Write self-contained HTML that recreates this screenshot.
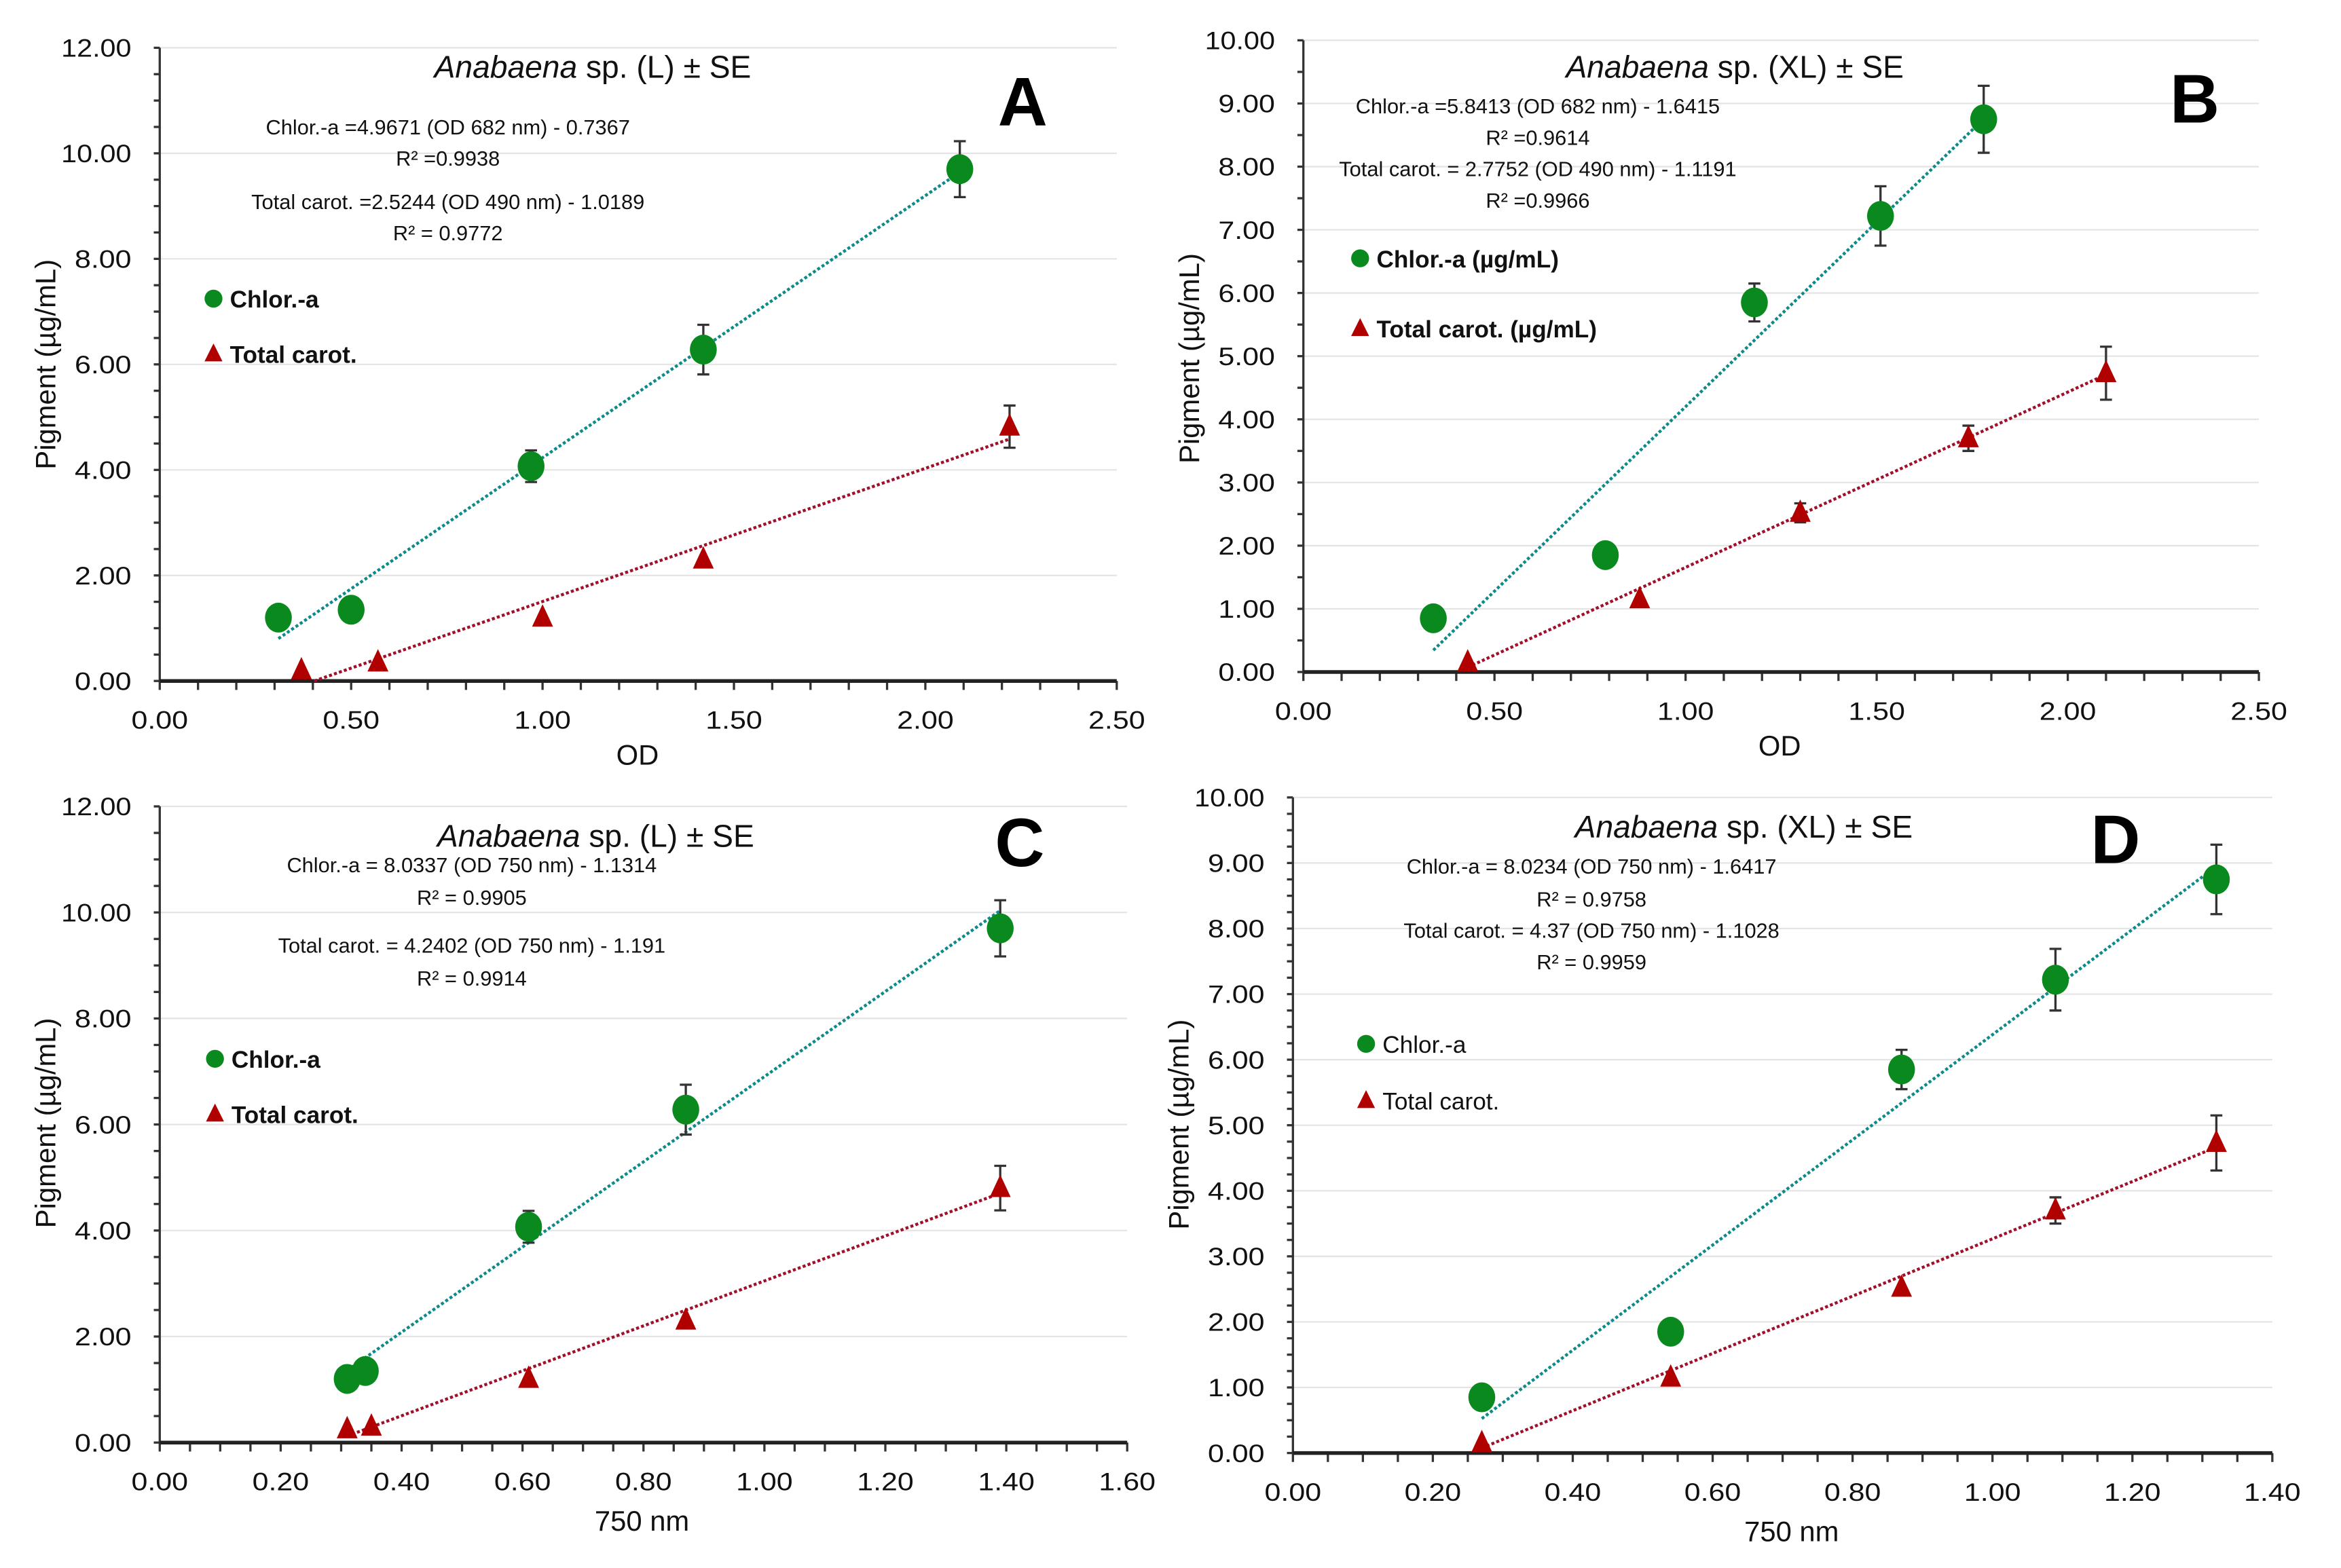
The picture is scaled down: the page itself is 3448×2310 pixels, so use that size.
<!DOCTYPE html>
<html><head><meta charset="utf-8">
<style>
html,body{margin:0;padding:0;background:#fff;}
svg{display:block;}
text{font-family:"Liberation Sans",sans-serif;}
</style></head>
<body>
<svg id="fig" width="3448" height="2310" viewBox="0 0 1568 1050" preserveAspectRatio="none" xmlns="http://www.w3.org/2000/svg"></svg>
<script>
// Panel A
const aChlorX=[0.31,0.50,0.97,1.42,2.09];
const aChlorY=[1.2,1.35,4.07,6.28,9.7];
const aChlorE=[0,0,0.3,0.47,0.53];
const aCarX=[0.37,0.57,1.00,1.42,2.22];
const aCarY=[0.2,0.35,1.2,2.3,4.82];
const aCarE=[0,0,0,0,0.4];
const aXTicks=["0.00","0.50","1.00","1.50","2.00","2.50"];
const aYTicks=["0.00","2.00","4.00","6.00","8.00","10.00","12.00"];
// Panel B
const bChlorX=[0.34,0.79,1.18,1.51,1.78];
const bChlorY=[0.85,1.85,5.85,7.22,8.75];
const bChlorE=[0,0,0.3,0.47,0.53];
const bCarX=[0.43,0.88,1.30,1.74,2.10];
const bCarY=[0.15,1.15,2.52,3.7,4.73];
const bCarE=[0,0,0.15,0.2,0.42];
const bXTicks=["0.00","0.50","1.00","1.50","2.00","2.50"];
const bYTicks=["0.00","1.00","2.00","3.00","4.00","5.00","6.00","7.00","8.00","9.00","10.00"];
// Panel C
const cChlorX=[0.31,0.34,0.61,0.87,1.39];
const cChlorY=[1.2,1.35,4.07,6.28,9.7];
const cChlorE=[0,0,0.3,0.47,0.53];
const cCarX=[0.31,0.35,0.61,0.87,1.39];
const cCarY=[0.25,0.3,1.2,2.3,4.8];
const cCarE=[0,0,0,0,0.42];
const cXTicks=["0.00","0.20","0.40","0.60","0.80","1.00","1.20","1.40","1.60"];
const cYTicks=["0.00","2.00","4.00","6.00","8.00","10.00","12.00"];
// Panel D
const dChlorX=[0.27,0.54,0.87,1.09,1.32];
const dChlorY=[0.85,1.85,5.85,7.22,8.75];
const dChlorE=[0,0,0.3,0.47,0.53];
const dCarX=[0.27,0.54,0.87,1.09,1.32];
const dCarY=[0.15,1.15,2.52,3.7,4.73];
const dCarE=[0,0,0,0.2,0.42];
const dXTicks=["0.00","0.20","0.40","0.60","0.80","1.00","1.20","1.40"];
const dYTicks=["0.00","1.00","2.00","3.00","4.00","5.00","6.00","7.00","8.00","9.00","10.00"];
// Trend line coefficients [slope, intercept]
const aChlorFit=[4.9671,-0.7367], aCarFit=[2.5244,-1.0189];
const bChlorFit=[5.8413,-1.6415], bCarFit=[2.7752,-1.1191];
const cChlorFit=[8.0337,-1.1314], cCarFit=[4.2402,-1.191];
const dChlorFit=[8.0234,-1.6417], dCarFit=[4.37,-1.1028];

const NS="http://www.w3.org/2000/svg";
const svg=document.getElementById('fig');
function mk(tag,attrs,parent,txt){const e=document.createElementNS(NS,tag);for(const k in attrs)e.setAttribute(k,attrs[k]);if(txt!==undefined)e.textContent=txt;(parent||svg).appendChild(e);return e;}

const panels=[
 {id:'a',x0:107,x1:748,y0:456,y1:32,xmax:2.5,ymax:12,xminor:0.1,yminor:0.5,
  cx:aChlorX,cy:aChlorY,ce:aChlorE,tx:aCarX,ty:aCarY,te:aCarE,xt:aXTicks,yt:aYTicks,cf:aChlorFit,tf:aCarFit,
  title:[397,45,"(L)"],letter:["A",685,84],eqx:300,eqy:[90,111,140,161],
  eq:["Chlor.-a =4.9671 (OD 682 nm) - 0.7367","R² =0.9938","Total carot. =2.5244 (OD 490 nm) - 1.0189","R² = 0.9772"],
  leg:[143,200,237],legT:["Chlor.-a","Total carot."],legBold:true,ytitle:[37,244],xtitle:[427,512,"OD"]},
 {id:'b',x0:873,x1:1513,y0:450,y1:27,xmax:2.5,ymax:10,xminor:0.1,yminor:0.5,
  cx:bChlorX,cy:bChlorY,ce:bChlorE,tx:bCarX,ty:bCarY,te:bCarE,xt:bXTicks,yt:bYTicks,cf:bChlorFit,tf:bCarFit,
  title:[1162,45,"(XL)"],letter:["B",1470,82],eqx:1030,eqy:[76,97,118,139],
  eq:["Chlor.-a =5.8413 (OD 682 nm) - 1.6415","R² =0.9614","Total carot. = 2.7752 (OD 490 nm) - 1.1191","R² =0.9966"],
  leg:[911,173,220],legT:["Chlor.-a (µg/mL)","Total carot. (µg/mL)"],legBold:true,ytitle:[803,240],xtitle:[1192,506,"OD"]},
 {id:'c',x0:107,x1:755,y0:966,y1:540,xmax:1.6,ymax:12,xminor:0.05,yminor:0.5,
  cx:cChlorX,cy:cChlorY,ce:cChlorE,tx:cCarX,ty:cCarY,te:cCarE,xt:cXTicks,yt:cYTicks,cf:cChlorFit,tf:cCarFit,
  title:[399,560,"(L)"],letter:["C",683,580],eqx:316,eqy:[584,606,638,660],
  eq:["Chlor.-a = 8.0337 (OD 750 nm) - 1.1314","R² = 0.9905","Total carot. = 4.2402 (OD 750 nm) - 1.191","R² = 0.9914"],
  leg:[144,709,746],legT:["Chlor.-a","Total carot."],legBold:true,ytitle:[37,752],xtitle:[430,1025,"750 nm"]},
 {id:'d',x0:866,x1:1522,y0:973,y1:534,xmax:1.4,ymax:10,xminor:0.05,yminor:0.25,
  cx:dChlorX,cy:dChlorY,ce:dChlorE,tx:dCarX,ty:dCarY,te:dCarE,xt:dXTicks,yt:dYTicks,cf:dChlorFit,tf:dCarFit,
  title:[1168,554,"(XL)"],letter:["D",1417,578],eqx:1066,eqy:[585,607,628,649],
  eq:["Chlor.-a = 8.0234 (OD 750 nm) - 1.6417","R² = 0.9758","Total carot. = 4.37 (OD 750 nm) - 1.1028","R² = 0.9959"],
  leg:[915,699,737],legT:["Chlor.-a","Total carot."],legBold:false,ytitle:[796,753],xtitle:[1200,1032,"750 nm"]}
];

panels.forEach(p=>{
  const g=mk('g',{});
  
  
  const X=v=>p.x0+(p.x1-p.x0)*v/p.xmax;
  const Y=v=>p.y0+(p.y1-p.y0)*v/p.ymax;
  // gridlines + y ticks
  p.yt.forEach(t=>{
    const v=parseFloat(t), y=Y(v);
    if(v>0){const gl=mk('line',{x1:p.x0,x2:p.x1,y1:y,y2:y,stroke:'#e4e4e4','stroke-width':1},g);
      }
    const tl=mk('text',{x:p.x0-19,y:y+6,'text-anchor':'end','font-size':17,fill:'#111',textLength:t.length>4?47:38,lengthAdjust:'spacingAndGlyphs'},g,t);
    
  });
  for(let v=0;v<=p.ymax+1e-9;v+=p.yminor){mk('line',{x1:p.x0-4,x2:p.x0,y1:Y(v),y2:Y(v),stroke:'#333','stroke-width':1.5},g);}
  for(let v=0;v<=p.xmax+1e-9;v+=p.xminor){mk('line',{x1:X(v),x2:X(v),y1:p.y0,y2:p.y0+6,stroke:'#333','stroke-width':1.5},g);}
  p.xt.forEach(t=>{
    const tl=mk('text',{x:X(parseFloat(t)),y:p.y0+32,'text-anchor':'middle','font-size':17,fill:'#111',textLength:38,lengthAdjust:'spacingAndGlyphs'},g,t);
    
  });
  const ya=mk('line',{x1:p.x0,x2:p.x0,y1:p.y0,y2:p.y1,stroke:'#333','stroke-width':1.5},g);
  
  const xa=mk('line',{x1:p.x0,x2:p.x1,y1:p.y0,y2:p.y0,stroke:'#222','stroke-width':2.5},g);
  
  // titles
  const tt=mk('text',{x:p.title[0],y:p.title[1]+7,'text-anchor':'middle','font-size':21,fill:'#111'},g);
  
  mk('tspan',{'font-style':'italic'},tt,'Anabaena');
  mk('tspan',{},tt,' sp. '+p.title[2]+' ± SE');
  const lt=mk('text',{x:p.letter[1],y:p.letter[2],'text-anchor':'middle','font-size':46,'font-weight':'bold',fill:'#000'},g,p.letter[0]);
  
  p.eq.forEach((s,i)=>{
    const et=mk('text',{x:p.eqx,y:p.eqy[i],'text-anchor':'middle','font-size':14,fill:'#111'},g,s);
    
  });
  const yt=mk('text',{x:p.ytitle[0],y:p.ytitle[1],'text-anchor':'middle','font-size':19,fill:'#111',transform:`rotate(-90 ${p.ytitle[0]} ${p.ytitle[1]})`},g,'Pigment (µg/mL)');
  
  const xt=mk('text',{x:p.xtitle[0],y:p.xtitle[1],'text-anchor':'middle','font-size':19,fill:'#111'},g,p.xtitle[2]);
  
  // trend lines
  function trend(fit,xs,col,name){
    let xa=Math.min(...xs), xb=Math.max(...xs);
    const xz=-fit[1]/fit[0]; if(fit[0]*xa+fit[1]<0) xa=xz;
    const l=mk('line',{x1:X(xa),y1:Y(fit[0]*xa+fit[1]),x2:X(xb),y2:Y(fit[0]*xb+fit[1]),stroke:col,'stroke-width':2,'stroke-dasharray':'2 1.5'},g);
    
  }
  trend(p.cf,p.cx,'#0f8a8a','chlor-trendline');
  trend(p.tf,p.tx,'#a0102a','carot-trendline');
  // error bars
  function err(xs,ys,es){xs.forEach((x,i)=>{if(!es[i])return;const cx=X(x),a=Y(ys[i]-es[i]),b=Y(ys[i]+es[i]);
    const e=mk('path',{d:`M${cx},${a}V${b}M${cx-4},${a}H${cx+4}M${cx-4},${b}H${cx+4}`,stroke:'#333','stroke-width':1.5,fill:'none'},g);
    });}
  err(p.cx,p.cy,p.ce); err(p.tx,p.ty,p.te);
  p.cx.forEach((x,i)=>{const c=mk('ellipse',{cx:X(x),cy:Y(p.cy[i]),rx:9,ry:10,fill:'#0a8a1e'},g);
    });
  p.tx.forEach((x,i)=>{const cx=X(x),cy=Y(p.ty[i]);const t=mk('polygon',{points:`${cx},${cy-9} ${cx-7},${cy+6} ${cx+7},${cy+6}`,fill:'#b00000'},g);
    });
  // legend
  const lx=p.leg[0];
  const l1=mk('circle',{cx:lx,cy:p.leg[1],r:6,fill:'#0a8a1e'},g);
  
  const l2=mk('polygon',{points:`${lx},${p.leg[2]-7} ${lx-6},${p.leg[2]+5} ${lx+6},${p.leg[2]+5}`,fill:'#b00000'},g);
  
  const fw=p.legBold?'bold':'normal';
  const e1=mk('text',{x:lx+11,y:p.leg[1]+6,'font-size':16,'font-weight':fw,fill:'#111'},g,p.legT[0]);
  
  const e2=mk('text',{x:lx+11,y:p.leg[2]+6,'font-size':16,'font-weight':fw,fill:'#111'},g,p.legT[1]);
  
});
</script>
</body></html>
